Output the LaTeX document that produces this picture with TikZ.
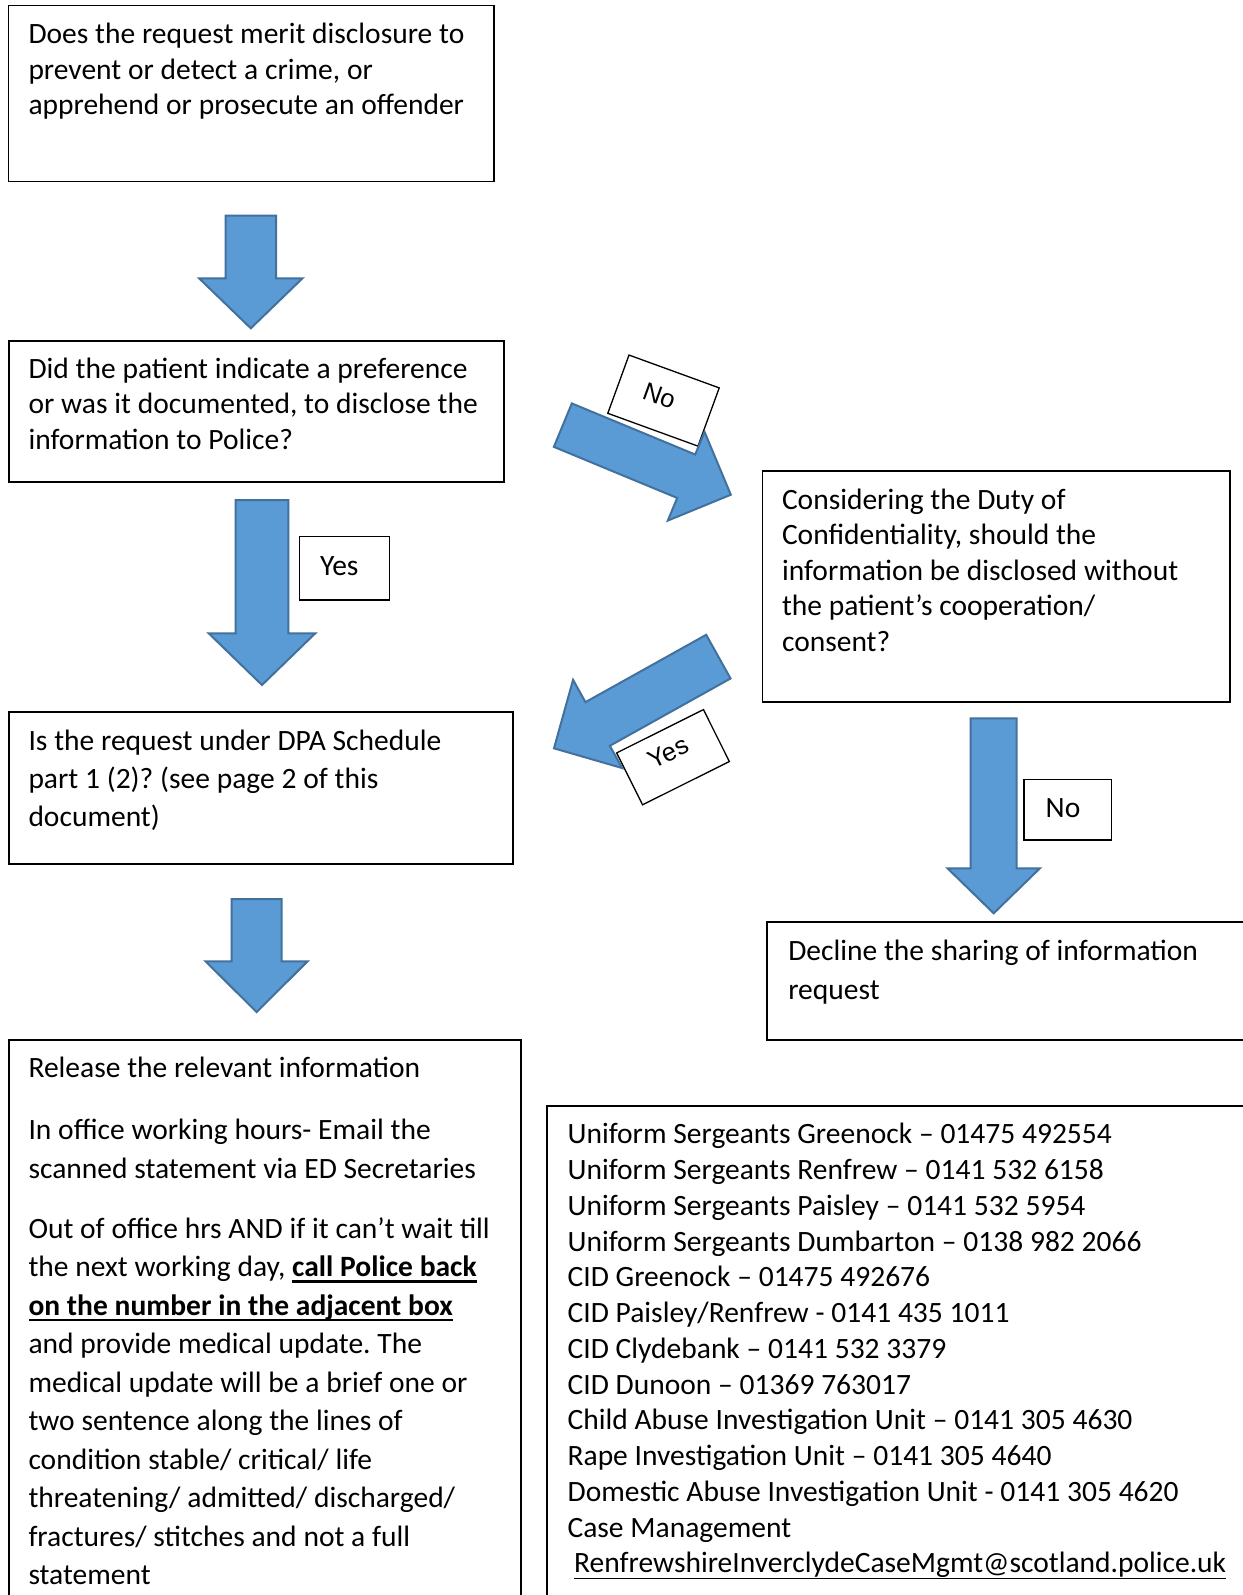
\documentclass[tikz,border=0pt]{standalone}
\usepackage{fontspec}
\setmainfont{Carlito}
\newfontfamily\arialfont{Liberation Sans}
\frenchspacing
\definecolor{arrowfill}{HTML}{5B9BD5}
\definecolor{arrowline}{HTML}{41719C}
\newcommand\boxtext[2]{\parbox[t]{640pt}{\fontsize{29.5}{#1}\selectfont\raggedright\spaceskip=6.8pt plus 1pt minus 1pt\xspaceskip=6.8pt plus 1pt minus 1pt\relax #2}}
\newcommand\ulbold[1]{\leavevmode\setbox0\hbox{\textbf{#1}}\rlap{\rule[-5.6pt]{\wd0}{2.2pt}}\box0}
\newcommand\ulthin[1]{\leavevmode\setbox0\hbox{#1}\rlap{\rule[-6.4pt]{\wd0}{1.6pt}}\box0}
\tikzset{
  barrow/.style={fill=arrowfill, draw=arrowline, line width=2pt, line join=miter},
  panel/.style={draw=black, line width=1.3pt, fill=white, inner sep=0pt, outer sep=0pt, anchor=north west},
  txt/.style={inner sep=0pt, outer sep=0pt, anchor=base west},
  rotlbl/.style={inner sep=0pt, font=\arialfont\fontsize{25.5}{30}\selectfont},
}
% #1 name, #2 x, #3 y (tail centre), #4 rotate, #5 length, #6 head length, #7 half shaft, #8 half head
\newcommand\blockarrow[8]{%
  \begin{scope}[shift={(#2,#3)},rotate=#4]
    \draw[barrow] (0,#7) -- ({#5-#6},#7) -- ({#5-#6},#8) -- (#5,0) -- ({#5-#6},-#8) -- ({#5-#6},-#7) -- (0,-#7) -- cycle;
    \coordinate (#1-tail) at (0,0);
    \coordinate (#1-tip) at (#5,0);
  \end{scope}}
\begin{document}
\begin{tikzpicture}[x=1pt,y=-1pt,font=\fontsize{29.5}{35.8}\selectfont]
\useasboundingbox[fill=white] (0,0) rectangle (1242,1595);

% boxes
\node[panel, minimum width=485.5pt, minimum height=176pt] (q1) at (8.5,5.5) {};
\node[panel, minimum width=495pt, minimum height=141pt] (q2) at (9,341) {};
\node[panel, minimum width=504pt, minimum height=152pt] (q3) at (9,712) {};
\node[panel, minimum width=512pt, minimum height=600pt] (rel) at (9,1040) {};
\node[panel, minimum width=467.5pt, minimum height=231pt] (conf) at (762.5,471) {};
\node[panel, minimum width=500pt, minimum height=118pt] (dec) at (767,922) {};
\node[panel, minimum width=720pt, minimum height=520pt] (cont) at (547,1106) {};
\node[panel, minimum width=90pt, minimum height=63.3pt] (yesbox) at (299.3,536.7) {};
\node[panel, minimum width=87.7pt, minimum height=60.7pt] (nobox) at (1024,779.3) {};
\node[panel, anchor=center, rotate=-20, minimum width=96pt, minimum height=62pt] (norot) at (663.5,400.6) {};
\node[panel, anchor=center, rotate=26.5, minimum width=97pt, minimum height=58pt] (yesrot) at (673,757.2) {};

% texts
\node[txt] (q1t) at (28.5,43.3) {\boxtext{35.8}{%
  Does the request merit disclosure to\\
  prevent or detect a crime, or\\
  apprehend or prosecute an offender}};
\node[txt] (q2t) at (28.5,378.5) {\boxtext{35.3}{%
  Did the patient indicate a preference\\
  or was it documented, to disclose the\\
  information to Police?}};
\node[txt] (q3t) at (28.5,750) {\boxtext{38.3}{%
  Is the request under DPA Schedule\\
  part 1 (2)? (see page 2 of this\\
  document)}};
\node[txt] (conft) at (782,509) {\boxtext{35.6}{%
  Considering the Duty of\\
  Confidentiality, should the\\
  information be disclosed without\\
  the patient’s cooperation/\\
  consent?}};
\node[txt] (dect) at (788.3,960.6) {\boxtext{38.6}{%
  Decline the sharing of information\\
  request}};
\node[txt] (relt) at (28.5,1077.6) {\boxtext{38.5}{%
  Release the relevant information\\[23.5pt]
  In office working hours- Email the\\
  scanned statement via ED Secretaries\\[21.8pt]
  Out of office hrs AND if it can’t wait till\\
  the next working day, \ulbold{call Police back}\\
  \ulbold{on the number in the adjacent box}\\
  and provide medical update. The\\
  medical update will be a brief one or\\
  two sentence along the lines of\\
  condition stable/ critical/ life\\
  threatening/ admitted/ discharged/\\
  fractures/ stitches and not a full\\
  statement}};
\node[txt] (contt) at (567.6,1143.7) {\boxtext{35.77}{%
  Uniform Sergeants Greenock – 01475 492554\\
  Uniform Sergeants Renfrew – 0141 532 6158\\
  Uniform Sergeants Paisley – 0141 532 5954\\
  Uniform Sergeants Dumbarton – 0138 982 2066\\
  CID Greenock – 01475 492676\\
  CID Paisley/Renfrew - 0141 435 1011\\
  CID Clydebank – 0141 532 3379\\
  CID Dunoon – 01369 763017\\
  Child Abuse Investigation Unit – 0141 305 4630\\
  Rape Investigation Unit – 0141 305 4640\\
  Domestic Abuse Investigation Unit - 0141 305 4620\\
  Case Management\\
  \leavevmode\hspace*{6.6pt}\ulthin{RenfrewshireInverclydeCaseMgmt@scotland.police.uk}}};

% labels
\node[txt] (yest) at (320,575) {Yes};
\node[txt] (not) at (1045.7,817) {No};
\node[rotlbl, rotate=-20] (norott) at (659.3,396) {No};
\node[rotlbl, rotate=26.5] (yesrott) at (668.3,752.7) {Yes};

% block arrows
\blockarrow{a1}{250.8}{215.7}{-90}{112.6}{50}{25.2}{51.7}
\blockarrow{a2}{262}{500}{-90}{185}{51.7}{26.3}{53.3}
\blockarrow{a3}{256.6}{899.2}{-90}{112.9}{50.8}{25}{51}
\blockarrow{a4}{993.7}{718.3}{-90}{195}{45}{23}{46.2}
\blockarrow{a5}{562.85}{425.15}{-22.5}{181.8}{48.3}{23.5}{48}
\blockarrow{a6}{718.35}{656.65}{-150.85}{188.2}{50}{25}{50.5}
\end{tikzpicture}
\end{document}
